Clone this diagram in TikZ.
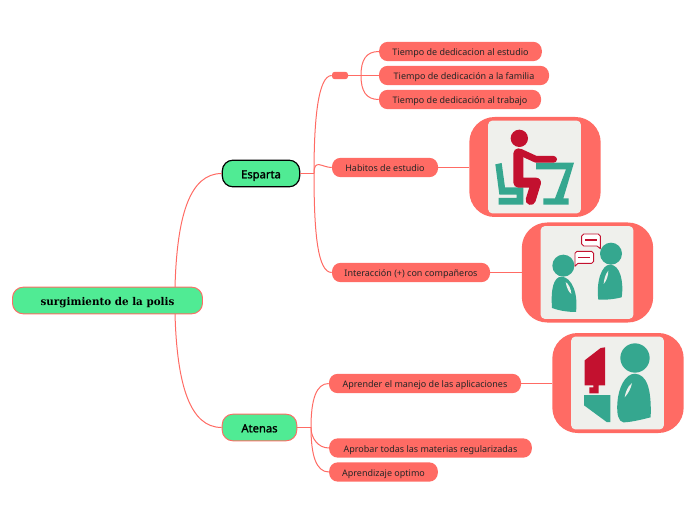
\documentclass[tikz,border=0pt]{standalone}
\usepackage{fontspec}
\setmainfont{Noto Sans}
\newfontfamily\rootfont{DejaVu Serif}[BoldFeatures={FakeStretch=0.97}]
\newfontfamily\topicfont{Noto Sans}[FakeBold=1.6]
\definecolor{coral}{HTML}{FF6B64}
\definecolor{mint}{HTML}{50EB94}
\definecolor{paper}{HTML}{EFF0EC}
\definecolor{teal2}{HTML}{35A78F}
\definecolor{crim}{HTML}{C3112F}
\tikzset{
  leaf/.style={fill=coral,rounded corners=6.5pt,inner sep=0pt,minimum height=14.5pt,font=\fontsize{6.75}{8}\selectfont,text=black!85,text height=6.8pt,text depth=.8pt},
  topic/.style={fill=mint,draw=coral,line width=.7pt,rounded corners=8pt,inner sep=0pt,minimum height=20pt,font=\fontsize{8.4}{10}\topicfont,text height=7.6pt,text depth=.4pt},
  imgbox/.style={fill=coral,rounded corners=19pt,inner sep=0pt,minimum width=98.5pt,minimum height=75pt},
  paperbox/.style={fill=paper,rounded corners=3pt,inner sep=0pt,minimum width=69.5pt,minimum height=69.5pt},
  link/.style={draw=coral,line width=.75pt},
  sliver/.style={fill=paper},
  tealfill/.style={fill=teal2},
  crimfill/.style={fill=crim}
}
\begin{document}
\begin{tikzpicture}[x=.75pt,y=-.75pt]
\useasboundingbox (0,0) rectangle (696,520);
% nodes
\node[topic,minimum width=142.5pt,font=\fontsize{8}{10}\rootfont\bfseries,text height=7.4pt,text depth=.2pt] (root) at (107.5,300.5) {surgimiento de la polis};
\node[topic,minimum width=58pt,draw=black,line width=.9pt] (esparta) at (261,173.5) {Esparta};
\node[topic,minimum width=56pt] (atenas) at (259.5,427.5) {Atenas};
\node[leaf,minimum width=12pt,minimum height=5.5pt,rounded corners=2pt,text height=0pt,text depth=0pt] (blank) at (340,75.5) {};
\node[leaf,minimum width=122pt] (t1) at (460.5,51.5) {Tiempo de dedicacion al estudio};
\node[leaf,minimum width=127.5pt] (t2) at (464,75.5) {Tiempo de dedicación a la familia};
\node[leaf,minimum width=121.5pt] (t3) at (460,99.5) {Tiempo de dedicación al trabajo};
\node[leaf,minimum width=79.5pt] (hab) at (385,167.5) {Habitos de estudio};
\node[leaf,minimum width=118.5pt] (int) at (411,272.5) {Interacción (+) con compañeros};
\node[leaf,minimum width=144pt] (apr) at (425,383.5) {Aprender el manejo de las aplicaciones};
\node[leaf,minimum width=152pt] (apb) at (430.5,448) {Aprobar todas las materias regularizadas};
\node[leaf,minimum width=81.5pt] (opt) at (383.5,472) {Aprendizaje optimo};
\node[imgbox] (im1) at (535,167) {};
\node[imgbox] (im2) at (587.5,272.5) {};
\node[imgbox] (im3) at (618,383) {};
\node[paperbox] (p1) at (534.5,167) {};
\node[paperbox] (p2) at (587,272.5) {};
\node[paperbox] (p3) at (617.5,383) {};
% junctions
\coordinate (j0a) at (175,287);
\coordinate (j0b) at (175,314);
\coordinate (j1) at (314,173.5);
\coordinate (j2) at (361,75.5);
\coordinate (j3) at (311,427.5);
% connectors
\draw[link] (j0a) .. controls (177,215) and (190,173.5) .. (esparta.west);
\draw[link] (j0b) .. controls (177,385) and (190,427.5) .. (atenas.west);
\draw[link] (esparta.east) -- (j1);
\draw[link] (j1) .. controls (314,120) and (318,75.5) .. (blank.west);
\draw[link] (j1) .. controls (314,158) and (322,167.5) .. (hab.west);
\draw[link] (j1) .. controls (314,235) and (318,272.5) .. (int.west);
\draw[link] (blank.east) -- (j2);
\draw[link] (j2) .. controls (361,60) and (366,51.5) .. (t1.west);
\draw[link] (j2) -- (t2.west);
\draw[link] (j2) .. controls (361,91) and (366,99.5) .. (t3.west);
\draw[link] (atenas.east) -- (j3);
\draw[link] (j3) .. controls (311,400) and (316,383.5) .. (apr.west);
\draw[link] (j3) .. controls (311,438) and (318,448) .. (apb.west);
\draw[link] (j3) .. controls (311,455) and (316,472) .. (opt.west);
\draw[link] (hab.east) -- (hab.east -| im1.west);
\draw[link] (int.east) -- (int.east -| im2.west);
\draw[link] (apr.east) -- (apr.east -| im3.west);
% icon 1
\begin{scope}[shift={(460,110)},x=.25pt,y=-.25pt]
\fill[tealfill] (106,163)--(125,159)--(135,232)--(190,232)--(190,284)--(116,284)--(116,264)--(170,264)--(170,254)--(118,254)--cycle;
\fill[tealfill] (228,158)--(342,158)--(310,265)--(326,265)--(326,284)--(250,284)--(250,265)--(285,265)--(318,178)--(228,178)--cycle;
\fill[crimfill] (178,85) circle (26);
\draw[crim,line width=5pt,line cap=round,line join=round] (180,126)--(228,148)--(281,148);
\draw[crim,line width=7.5pt,line cap=round,line join=round] (175,130)--(175,218)--(228,218)--(212,270);
\end{scope}
% icon 2
\begin{scope}[shift={(510,218)},x=.25pt,y=-.25pt]
\fill[tealfill] (160,143) circle (33);
\fill[tealfill] (126,270) .. controls (122,215) and (130,176) .. (155,176) .. controls (185,178) and (205,225) .. (198,282) .. controls (170,282) and (145,277) .. (126,270) -- cycle;
\fill[sliver] (167,192) .. controls (170,210) and (176,222) .. (184,228) .. controls (183,212) and (176,198) .. (167,192) -- cycle;
\fill[tealfill] (303,107) circle (33);
\fill[tealfill] (265,245) .. controls (258,190) and (275,140) .. (300,140) .. controls (330,140) and (342,190) .. (335,238) .. controls (315,243) and (290,246) .. (265,245) -- cycle;
\fill[sliver] (295,158) .. controls (285,170) and (282,185) .. (281,198) .. controls (290,188) and (295,172) .. (295,158) -- cycle;
\draw[crim,fill=white,line width=.65pt,line join=round] (221,48)--(265,48)--(271,54)--(271,92)--(261,84)--(221,84)--(215,78)--(215,54)--cycle;
\draw[crim,line width=1.1pt] (226,66)--(262,66);
\draw[crim,fill=white,line width=.65pt,line join=round] (201,100)--(245,100)--(251,106)--(251,130)--(245,136)--(204,136)--(195,145)--(195,106)--cycle;
\draw[crim,line width=1.1pt] (204,119)--(240,119);
\end{scope}
% icon 3
\begin{scope}[shift={(540,328)},x=.25pt,y=-.25pt]
\fill[crimfill] (134,97)--(182,60)--(195,58)--(195,172)--(176,172)--(176,196)--(148,196)--(148,178)--(160,178)--(160,172)--(134,172)--cycle;
\fill[tealfill] (132,201)--(211,201)--(211,282)--(200,282)--(132,232)--cycle;
\fill[tealfill] (285,90) circle (44);
\fill[tealfill] (232,225) .. controls (235,180) and (255,137) .. (285,137) .. controls (320,140) and (335,180) .. (332,268) .. controls (300,276) and (270,283) .. (250,283) .. controls (235,280) and (230,260) .. (232,225) -- cycle;
\fill[sliver] (276,165) .. controls (262,175) and (256,195) .. (254,208) .. controls (266,195) and (273,180) .. (276,165) -- cycle;
\end{scope}
\end{tikzpicture}
\end{document}
